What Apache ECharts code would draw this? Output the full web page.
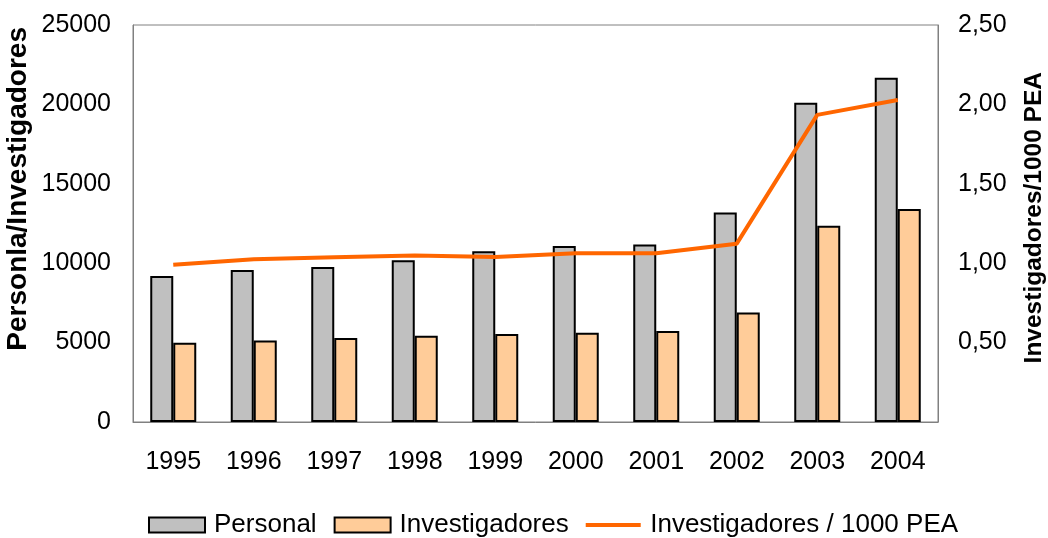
<!DOCTYPE html>
<html>
<head>
<meta charset="utf-8">
<script src="https://cdn.jsdelivr.net/npm/echarts@6/dist/echarts.min.js"></script>
<style>
  html, body { margin: 0; padding: 0; background: #fff; }
  #chart { width: 1048px; height: 538px; }
</style>
</head>
<body>
<div id="chart"></div>
<script>
// Years on the category axis
const years = ['1995', '1996', '1997', '1998', '1999', '2000', '2001', '2002', '2003', '2004'];
// Total R&D staff
const personal = [9200, 9570, 9760, 10180, 10750, 11080, 11170, 13200, 20100, 21680];
// Researchers
const investigadores = [4990, 5140, 5290, 5430, 5540, 5620, 5730, 6900, 12360, 13410];
// Researchers per 1000 economically active people
const invPorPea = [0.99, 1.025, 1.037, 1.048, 1.039, 1.062, 1.062, 1.123, 1.934, 2.028];

const FONT = 'Liberation Sans';
const chart = echarts.init(document.getElementById('chart'), null, { renderer: 'canvas' });

// Thin horizontal bar used as the legend icon of the line series
const lineIcon = 'path://M0,0L0.01,0Z M0,5.5L55,5.5L55,9.5L0,9.5Z M0,15L0.01,15Z';

chart.setOption({
  animation: false,
  backgroundColor: '#ffffff',
  textStyle: { fontFamily: FONT, color: '#000' },
  grid: {
    left: 133, right: 110, top: 25, bottom: 116,
    outerBoundsMode: 'none',
    containLabel: false,
    show: true, borderColor: '#808080', borderWidth: 1, backgroundColor: 'transparent'
  },
  legend: {
    left: 148, top: 512, padding: 0,
    itemWidth: 56, itemHeight: 15, itemGap: 17,
    textStyle: { fontFamily: FONT, fontSize: 26, color: '#000', padding: [0, 0, 0, 4] },
    data: [
      { name: 'Personal', icon: 'rect' },
      { name: 'Investigadores', icon: 'rect' },
      { name: 'Investigadores / 1000 PEA', icon: lineIcon,
        itemStyle: { color: '#FF6600', borderWidth: 0 } }
    ]
  },
  graphic: [
    {
      type: 'text', left: 4, top: 27, rotation: Math.PI / 2,
      style: { text: 'Personla/Investigadores', font: 'bold 28px "Liberation Sans"', fill: '#000' }
    },
    {
      type: 'text', left: 1022, top: 72, rotation: Math.PI / 2,
      style: { text: 'Investigadores/1000 PEA', font: 'bold 24.5px "Liberation Sans"', fill: '#000' }
    }
  ],
  xAxis: {
    type: 'category',
    data: years,
    axisTick: { show: false },
    axisLine: { lineStyle: { color: '#808080', width: 1 } },
    axisLabel: { fontFamily: FONT, fontSize: 25, color: '#000', margin: 28 }
  },
  yAxis: [
    {
      type: 'value',
      min: 0, max: 25000, interval: 5000,
      axisLine: { show: true, lineStyle: { color: '#808080', width: 1 } },
      axisTick: { show: false },
      splitLine: { show: false },
      axisLabel: {
        fontFamily: FONT, fontSize: 25, color: '#000', margin: 22,
        formatter: v => String(v)
      }
    },
    {
      type: 'value',
      min: 0, max: 2.5, interval: 0.5,
      axisLine: { show: true, lineStyle: { color: '#808080', width: 1 } },
      axisTick: { show: false },
      splitLine: { show: false },
      axisLabel: {
        fontFamily: FONT, fontSize: 25, color: '#000', margin: 20,
        formatter: v => v === 0 ? '' : v.toFixed(2).replace('.', ',')
      }
    }
  ],
  series: [
    {
      name: 'Personal',
      type: 'bar',
      data: personal,
      barWidth: 23,
      barGap: '0%',
      itemStyle: { color: '#C0C0C0', borderColor: '#000', borderWidth: 2 }
    },
    {
      name: 'Investigadores',
      type: 'bar',
      data: investigadores,
      barWidth: 23,
      itemStyle: { color: '#FFCC99', borderColor: '#000', borderWidth: 2 }
    },
    {
      name: 'Investigadores / 1000 PEA',
      type: 'line',
      yAxisIndex: 1,
      data: invPorPea,
      symbol: 'none',
      lineStyle: { color: '#FF6600', width: 4 },
      itemStyle: { color: '#FF6600' }
    }
  ]
});
</script>
</body>
</html>
